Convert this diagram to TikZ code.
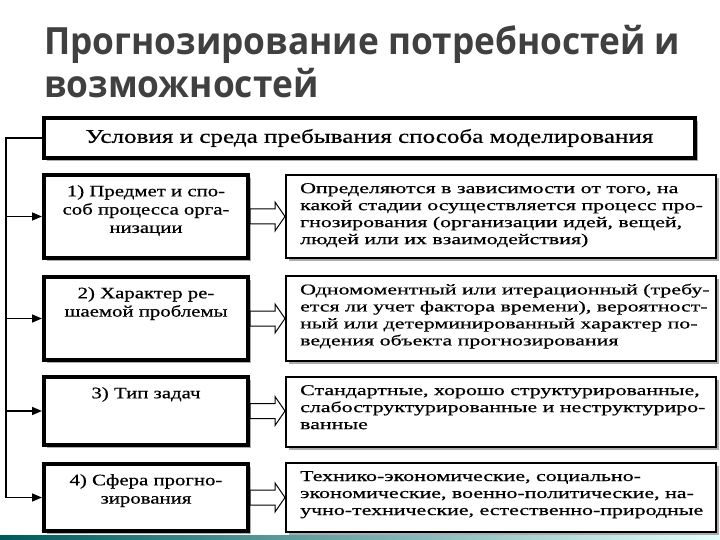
\documentclass[tikz,border=0pt]{standalone}
\usepackage{fontspec}
\setmainfont{Liberation Serif}[FakeStretch=1.3,FakeBold=0.6]
\newfontfamily\widefont{Liberation Serif}[FakeStretch=1.46,FakeBold=0.6]
\newfontfamily\titlefont{Open Sans Bold}[FakeStretch=0.94]
\usetikzlibrary{positioning,arrows.meta,shadows}

\begin{document}
\begin{tikzpicture}[x=1pt,y=-1pt,
  boxshadow/.style={drop shadow={shadow xshift=3pt,shadow yshift=-3pt,fill=gray!65,opacity=1}},
  headbox/.style={draw,line width=4pt,fill=white,minimum width=651pt,minimum height=40pt,inner sep=0pt,boxshadow},
  leftbox/.style={draw,line width=4pt,fill=white,minimum width=204pt,inner sep=0pt,boxshadow},
  rightbox/.style={draw,line width=2pt,fill=white,minimum width=430pt,inner sep=0pt,boxshadow},
  lefttxt/.style={anchor=north,align=center,inner sep=0pt,font=\fontsize{16}{18.3}\selectfont},
  righttxt/.style={anchor=north west,align=left,inner sep=0pt,font=\widefont\fontsize{15}{17}\selectfont},
  blockarrow/.style={draw,line width=1pt,fill=white,line join=miter},
  bus/.style={line width=1.6pt},
  feed/.style={line width=1.6pt,-{Triangle[length=10pt,width=8pt]}}]
\useasboundingbox (0,0) rectangle (720,540);

% title
\node[anchor=north west,align=left,inner sep=0pt,text=black!75,
  font=\titlefont\fontsize{37.5}{43}\selectfont] (title) at (44,25)
  {Прогнозирование потребностей и\\возможностей};

% boxes
\node[headbox] (head) at (369.5,138) {\fontsize{19.3}{21}\selectfont Условия и среда пребывания способа моделирования};

\node[leftbox,minimum height=83pt] (l1) at (146,216.5) {};
\node[leftbox,minimum height=83pt] (l2) at (146,318.5) {};
\node[leftbox,minimum height=68pt] (l3) at (146,411) {};
\node[leftbox,minimum height=67pt] (l4) at (146,497.5) {};

\node[rightbox,minimum height=83pt] (r1) at (501,216.5) {};
\node[rightbox,minimum height=85pt] (r2) at (501,318) {};
\node[rightbox,minimum height=70pt] (r3) at (501,412) {};
\node[rightbox,minimum height=69pt] (r4) at (501,497.5) {};

% texts
\node[lefttxt] (lt1) at ([yshift=-12pt]l1.north) {1) Предмет и спо-\\соб процесса орга-\\низации};
\node[lefttxt] (lt2) at ([yshift=-12pt]l2.north) {2) Характер ре-\\шаемой проблемы};
\node[lefttxt] (lt3) at ([yshift=-12pt]l3.north) {3) Тип задач};
\node[lefttxt] (lt4) at ([yshift=-12pt]l4.north) {4) Сфера прогно-\\зирования};

\node[righttxt] (rt1) at ([xshift=15pt,yshift=-9pt]r1.north west)
  {Определяются в зависимости от того, на\\какой стадии осуществляется процесс про-\\гнозирования (организации идей, вещей,\\людей или их взаимодействия)};
\node[righttxt] (rt2) at ([xshift=15pt,yshift=-9pt]r2.north west)
  {Одномоментный или итерационный (требу-\\ется ли учет фактора времени), вероятност-\\ный или детерминированный характер по-\\ведения объекта прогнозирования};
\node[righttxt] (rt3) at ([xshift=15pt,yshift=-9pt]r3.north west)
  {Стандартные, хорошо структурированные,\\слабоструктурированные и неструктуриро-\\ванные};
\node[righttxt] (rt4) at ([xshift=15pt,yshift=-9pt]r4.north west)
  {Технико-экономические, социально-\\экономические, военно-политические, на-\\учно-технические, естественно-природные};

% block arrows
\foreach \n in {1,...,4}
  \draw[blockarrow] ([yshift=7.5pt]l\n.east) -- ++(25,0) -- ++(0,-7) -- ++(10,14.5)
    -- ++(-10,14.5) -- ++(0,-7) -- ++(-25,0) -- cycle;

% left bus
\coordinate (spine) at (6,138);
\draw[bus] (head.west) -- (spine) -- (spine |- l4);
\foreach \n in {1,...,4}
  \draw[feed] (spine |- l\n) -- (l\n.west);

% slide strip
\shade[left color=teal!70!black,right color=cyan!10] (0,535) rectangle (720,540);
\end{tikzpicture}
\end{document}
